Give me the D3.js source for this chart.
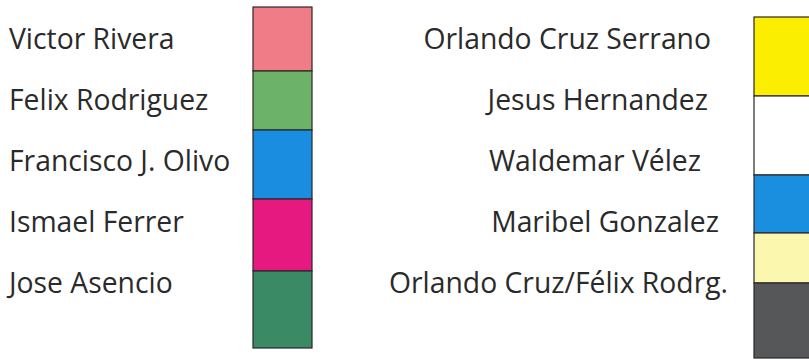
<!DOCTYPE html>
<html>
<head>
<meta charset="utf-8">
<script src="https://cdn.jsdelivr.net/npm/d3@7"></script>
<style>
  body { margin: 0; background: #fff; }
  svg { display: block; }
  text { font-family: "Open Sans", sans-serif; fill: #2a2a2a; }
</style>
</head>
<body>
<div id="chart"></div>
<script>
'use strict';

// left column
var leftNames = ['Victor Rivera', 'Felix Rodriguez', 'Francisco J. Olivo', 'Ismael Ferrer', 'Jose Asencio'],
    leftColors = ['#f07c88', '#6cb369', '#1a8de0', '#e5197f', '#3b8a66'],
    leftShare = [64, 59, 69, 72, 77];

// right column
var rightNames = ['Orlando Cruz Serrano', 'Jesus Hernandez', 'Waldemar Vélez', 'Maribel Gonzalez', 'Orlando Cruz/Félix Rodrg.'],
    rightColors = ['#fcee00', '#ffffff', '#1a8fe0', '#fbf7ae', '#555759'],
    rightShare = [79, 79, 58, 50, 75];

var WIDTH = 809,
    HEIGHT = 360,
    FONT_SIZE = 28.3;

var svg = d3.select('#chart').append('svg')
    .attr('width', WIDTH)
    .attr('height', HEIGHT);

function cumulate(arr) {
  var acc = 0;
  return arr.map(function (v) {
    var d = { start: acc, end: acc + v };
    acc += v;
    return d;
  });
}

function drawColumn(names, colors, share, opts) {
  var stack = cumulate(share),
      total = d3.sum(share),
      y = d3.scaleLinear().domain([0, total]).range([opts.top, opts.bottom]),
      rows = d3.scaleBand().domain(d3.range(names.length)).range([8, 314]),
      g = svg.append('g');

  g.selectAll('rect.swatch')
    .data(stack)
    .enter()
    .append('rect')
    .attr('class', 'swatch')
    .attr('x', opts.boxX)
    .attr('width', opts.boxW)
    .attr('y', function (d) { return y(d.start); })
    .attr('height', function (d) { return y(d.end) - y(d.start); })
    .attr('fill', function (d, i) { return colors[i]; })
    .attr('stroke', '#2b2626')
    .attr('stroke-width', 1.2);

  g.selectAll('text')
    .data(names)
    .enter()
    .append('text')
    .attr('x', function (d, i) { return opts.textX + (opts.nudge ? opts.nudge[i] : 0); })
    .attr('y', function (d, i) { return rows(i) + rows.bandwidth() / 2; })
    .attr('dy', '0.35em')
    .attr('text-anchor', opts.anchor)
    .style('font-size', FONT_SIZE + 'px')
    .text(function (d) { return d; });
}

drawColumn(leftNames, leftColors, leftShare, {
  top: 7, bottom: 348, boxX: 253, boxW: 59, textX: 9, anchor: 'start'
});

drawColumn(rightNames, rightColors, rightShare, {
  top: 17, bottom: 358, boxX: 754, boxW: 60, textX: 711, anchor: 'end',
  nudge: [0, -3, -10, 8, 17]
});
</script>
</body>
</html>
